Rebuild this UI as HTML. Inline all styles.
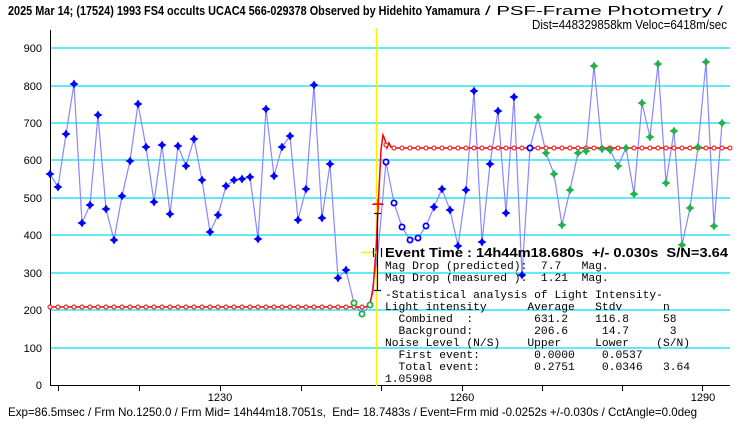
<!DOCTYPE html>
<html><head><meta charset="utf-8"><style>
html,body{margin:0;padding:0;background:#fff;}
svg{display:block;}
.m text{white-space:pre;}
</style></head><body>
<svg width="740" height="425" viewBox="0 0 740 425" xmlns="http://www.w3.org/2000/svg">
<defs>
<path id="dm" d="M0,-4.5 L1.7,-1.7 L4.5,0 L1.7,1.7 L0,4.5 L-1.7,1.7 L-4.5,0 L-1.7,-1.7Z"/>
</defs>
<rect width="740" height="425" fill="#fff"/>
<!-- title -->
<text x="8" y="15" font-family="Liberation Sans, sans-serif" font-size="13" font-weight="bold" textLength="472" lengthAdjust="spacingAndGlyphs">2025 Mar 14; (17524) 1993 FS4 occults UCAC4 566-029378 Observed by Hidehito Yamamura</text>
<text x="485" y="15" font-family="Liberation Sans, sans-serif" font-size="13" textLength="238" lengthAdjust="spacingAndGlyphs">/ PSF-Frame Photometry /</text>
<text x="727" y="29" text-anchor="end" font-family="Liberation Sans, sans-serif" font-size="12.5" textLength="195" lengthAdjust="spacingAndGlyphs">Dist=448329858km Veloc=6418m/sec</text>
<!-- grid -->
<g stroke="#00e0ee" stroke-width="1.3">
<line x1="50" x2="730" y1="48" y2="48"/><line x1="50" x2="730" y1="86" y2="86"/>
<line x1="50" x2="730" y1="123" y2="123"/><line x1="50" x2="730" y1="160" y2="160"/>
<line x1="50" x2="730" y1="198" y2="198"/><line x1="50" x2="730" y1="235" y2="235"/>
<line x1="50" x2="730" y1="273" y2="273"/><line x1="50" x2="730" y1="310" y2="310"/>
<line x1="50" x2="730" y1="348" y2="348"/>
</g>
<!-- y labels -->
<g font-family="Liberation Sans, sans-serif" font-size="11" text-anchor="end">
<text x="42" y="52">900</text><text x="42" y="90">800</text><text x="42" y="127">700</text>
<text x="42" y="164">600</text><text x="42" y="202">500</text><text x="42" y="239">400</text>
<text x="42" y="277">300</text><text x="42" y="314">200</text><text x="42" y="352">100</text>
<text x="42" y="389">0</text>
</g>
<!-- axes -->
<line x1="50.5" y1="30" x2="50.5" y2="386" stroke="#000"/>
<line x1="50" y1="385.5" x2="730" y2="385.5" stroke="#000"/>
<g stroke="#000">
<line x1="58.5" x2="58.5" y1="386" y2="391"/><line x1="139.5" x2="139.5" y1="386" y2="391"/>
<line x1="220.5" x2="220.5" y1="386" y2="391"/><line x1="301.5" x2="301.5" y1="386" y2="391"/>
<line x1="381.5" x2="381.5" y1="386" y2="391"/><line x1="462.5" x2="462.5" y1="386" y2="391"/>
<line x1="542.5" x2="542.5" y1="386" y2="391"/><line x1="622.5" x2="622.5" y1="386" y2="391"/>
<line x1="702.5" x2="702.5" y1="386" y2="391"/>
</g>
<g font-family="Liberation Sans, sans-serif" font-size="11" text-anchor="middle">
<text x="220" y="401">1230</text><text x="462" y="401">1260</text><text x="703" y="401">1290</text>
</g>
<!-- yellow event line -->
<line x1="376.5" y1="28" x2="376.5" y2="386" stroke="#ffee00" stroke-width="1.5"/>
<!-- data line -->
<polyline fill="none" stroke="#8888ff" stroke-width="1.2" points="50,174 58,187 66,134 74,84 82,223 90,205 98,115 106,209 114,240 122,196 130,161 138,104 146,147 154,202 162,145 170,214 178,146 186,166 194,139 202,180 210,232 218,215 226,186 234,180 242,179 250,177 258,239 266,109 274,176 282,147 290,136 298,220 306,189 314,85 322,218 330,164 338,278 346,270 354,303 362,314 370,305 378,252 386,162 394,203 402,227 410,240 418,238 426,226 434,207 442,189 450,210 458,246 466,190 474,91 482,242 490,164 498,111 506,213 514,97 522,275 530,148 538,117 546,153 554,174 562,225 570,190 578,153 586,151 594,66 602,149 610,150 618,166 626,148 634,194 642,103 650,137 658,64 666,183 674,131 682,245 690,208 698,147 706,62 714,226 722,123"/>
<!-- model -->
<polyline fill="none" stroke="#ff0000" stroke-width="1.5" points="50,307 366,307 370,304 373,290 376,250 379,190 381,150 383,135 385,140 387,148 389,143 391,147 395,148 730,148"/>
<g fill="#fff" stroke="#ff0000" stroke-width="1">
<circle cx="50" cy="307" r="2"/><circle cx="58" cy="307" r="2"/><circle cx="66" cy="307" r="2"/><circle cx="74" cy="307" r="2"/><circle cx="82" cy="307" r="2"/><circle cx="90" cy="307" r="2"/><circle cx="98" cy="307" r="2"/><circle cx="106" cy="307" r="2"/><circle cx="114" cy="307" r="2"/><circle cx="122" cy="307" r="2"/><circle cx="130" cy="307" r="2"/><circle cx="138" cy="307" r="2"/><circle cx="146" cy="307" r="2"/><circle cx="154" cy="307" r="2"/><circle cx="162" cy="307" r="2"/><circle cx="170" cy="307" r="2"/><circle cx="178" cy="307" r="2"/><circle cx="186" cy="307" r="2"/><circle cx="194" cy="307" r="2"/><circle cx="202" cy="307" r="2"/><circle cx="210" cy="307" r="2"/><circle cx="218" cy="307" r="2"/><circle cx="226" cy="307" r="2"/><circle cx="234" cy="307" r="2"/><circle cx="242" cy="307" r="2"/><circle cx="250" cy="307" r="2"/><circle cx="258" cy="307" r="2"/><circle cx="266" cy="307" r="2"/><circle cx="274" cy="307" r="2"/><circle cx="282" cy="307" r="2"/><circle cx="290" cy="307" r="2"/><circle cx="298" cy="307" r="2"/><circle cx="306" cy="307" r="2"/><circle cx="314" cy="307" r="2"/><circle cx="322" cy="307" r="2"/><circle cx="330" cy="307" r="2"/><circle cx="338" cy="307" r="2"/><circle cx="346" cy="307" r="2"/><circle cx="354" cy="307" r="2"/><circle cx="362" cy="307" r="2"/><circle cx="370" cy="304" r="2"/>
<circle cx="386" cy="145" r="2"/><circle cx="394" cy="148" r="2"/><circle cx="402" cy="148" r="2"/><circle cx="410" cy="148" r="2"/><circle cx="418" cy="148" r="2"/><circle cx="426" cy="148" r="2"/><circle cx="434" cy="148" r="2"/><circle cx="442" cy="148" r="2"/><circle cx="450" cy="148" r="2"/><circle cx="458" cy="148" r="2"/><circle cx="466" cy="148" r="2"/><circle cx="474" cy="148" r="2"/><circle cx="482" cy="148" r="2"/><circle cx="490" cy="148" r="2"/><circle cx="498" cy="148" r="2"/><circle cx="506" cy="148" r="2"/><circle cx="514" cy="148" r="2"/><circle cx="522" cy="148" r="2"/><circle cx="538" cy="148" r="2"/><circle cx="546" cy="148" r="2"/><circle cx="554" cy="148" r="2"/><circle cx="562" cy="148" r="2"/><circle cx="570" cy="148" r="2"/><circle cx="578" cy="148" r="2"/><circle cx="586" cy="148" r="2"/><circle cx="594" cy="148" r="2"/><circle cx="602" cy="148" r="2"/><circle cx="610" cy="148" r="2"/><circle cx="618" cy="148" r="2"/><circle cx="626" cy="148" r="2"/><circle cx="634" cy="148" r="2"/><circle cx="642" cy="148" r="2"/><circle cx="650" cy="148" r="2"/><circle cx="658" cy="148" r="2"/><circle cx="666" cy="148" r="2"/><circle cx="674" cy="148" r="2"/><circle cx="682" cy="148" r="2"/><circle cx="690" cy="148" r="2"/><circle cx="698" cy="148" r="2"/><circle cx="706" cy="148" r="2"/><circle cx="714" cy="148" r="2"/><circle cx="722" cy="148" r="2"/><circle cx="730" cy="148" r="2"/>
</g>
<!-- blue filled markers -->
<g fill="#0000ff">
<use href="#dm" x="50" y="174"/><use href="#dm" x="58" y="187"/><use href="#dm" x="66" y="134"/><use href="#dm" x="74" y="84"/><use href="#dm" x="82" y="223"/><use href="#dm" x="90" y="205"/><use href="#dm" x="98" y="115"/><use href="#dm" x="106" y="209"/><use href="#dm" x="114" y="240"/><use href="#dm" x="122" y="196"/><use href="#dm" x="130" y="161"/><use href="#dm" x="138" y="104"/><use href="#dm" x="146" y="147"/><use href="#dm" x="154" y="202"/><use href="#dm" x="162" y="145"/><use href="#dm" x="170" y="214"/><use href="#dm" x="178" y="146"/><use href="#dm" x="186" y="166"/><use href="#dm" x="194" y="139"/><use href="#dm" x="202" y="180"/><use href="#dm" x="210" y="232"/><use href="#dm" x="218" y="215"/><use href="#dm" x="226" y="186"/><use href="#dm" x="234" y="180"/><use href="#dm" x="242" y="179"/><use href="#dm" x="250" y="177"/><use href="#dm" x="258" y="239"/><use href="#dm" x="266" y="109"/><use href="#dm" x="274" y="176"/><use href="#dm" x="282" y="147"/><use href="#dm" x="290" y="136"/><use href="#dm" x="298" y="220"/><use href="#dm" x="306" y="189"/><use href="#dm" x="314" y="85"/><use href="#dm" x="322" y="218"/><use href="#dm" x="330" y="164"/><use href="#dm" x="338" y="278"/><use href="#dm" x="346" y="270"/>
<use href="#dm" x="434" y="207"/><use href="#dm" x="442" y="189"/><use href="#dm" x="450" y="210"/><use href="#dm" x="458" y="246"/><use href="#dm" x="466" y="190"/><use href="#dm" x="474" y="91"/><use href="#dm" x="482" y="242"/><use href="#dm" x="490" y="164"/><use href="#dm" x="498" y="111"/><use href="#dm" x="506" y="213"/><use href="#dm" x="514" y="97"/><use href="#dm" x="522" y="275"/>
</g>
<!-- blue hollow -->
<g fill="#fff" stroke="#0000ff" stroke-width="1.8">
<circle cx="386" cy="162" r="2.6"/><circle cx="394" cy="203" r="2.6"/><circle cx="402" cy="227" r="2.6"/><circle cx="410" cy="240" r="2.6"/><circle cx="418" cy="238" r="2.6"/><circle cx="426" cy="226" r="2.6"/><circle cx="530" cy="148" r="2.6"/>
</g>
<!-- green hollow -->
<g fill="#fff" stroke="#22aa44" stroke-width="1.8">
<circle cx="354" cy="303" r="2.6"/><circle cx="362" cy="314" r="2.6"/><circle cx="370" cy="305" r="2.6"/>
</g>
<!-- green filled -->
<g fill="#22b14c">
<use href="#dm" x="538" y="117"/><use href="#dm" x="546" y="153"/><use href="#dm" x="554" y="174"/><use href="#dm" x="562" y="225"/><use href="#dm" x="570" y="190"/><use href="#dm" x="578" y="153"/><use href="#dm" x="586" y="151"/><use href="#dm" x="594" y="66"/><use href="#dm" x="602" y="149"/><use href="#dm" x="610" y="150"/><use href="#dm" x="618" y="166"/><use href="#dm" x="626" y="148"/><use href="#dm" x="634" y="194"/><use href="#dm" x="642" y="103"/><use href="#dm" x="650" y="137"/><use href="#dm" x="658" y="64"/><use href="#dm" x="666" y="183"/><use href="#dm" x="674" y="131"/><use href="#dm" x="682" y="245"/><use href="#dm" x="690" y="208"/><use href="#dm" x="698" y="147"/><use href="#dm" x="706" y="62"/><use href="#dm" x="714" y="226"/><use href="#dm" x="722" y="123"/>
</g>
<!-- event markers -->
<line x1="361" y1="252.5" x2="378" y2="252.5" stroke="#ffee00" stroke-width="1.5"/>
<line x1="372" y1="204.5" x2="384" y2="204.5" stroke="#ff00ff" stroke-width="1"/>
<g stroke="#000066" stroke-width="1.2">
<line x1="377.5" y1="213" x2="377.5" y2="291"/>
<line x1="374" y1="213.5" x2="381" y2="213.5"/><line x1="374" y1="290.5" x2="381" y2="290.5"/>
<line x1="373.5" y1="248" x2="373.5" y2="257"/><line x1="381.5" y1="248" x2="381.5" y2="257"/>
</g>
<g stroke="#ff0000" stroke-width="1.5"><line x1="378" y1="199" x2="378" y2="209"/><line x1="373" y1="204" x2="383" y2="204"/></g>
<!-- info text -->
<text x="385" y="257" style="white-space:pre" font-family="Liberation Sans, sans-serif" font-size="13" font-weight="bold" textLength="343" lengthAdjust="spacingAndGlyphs">Event Time : 14h44m18.680s  +/- 0.030s  S/N=3.64</text>
<g class="m" font-family="Liberation Mono, monospace" font-size="11.3">
<text x="385" y="269">Mag Drop (predicted):  7.7   Mag.</text>
<text x="385" y="281">Mag Drop (measured ):  1.21  Mag.</text>
<text x="385" y="298">-Statistical analysis of Light Intensity-</text>
<text x="385" y="310">Light intensity      Average   Stdv      n</text>
<text x="385" y="322">  Combined  :         631.2    116.8     58</text>
<text x="385" y="334">  Background:         206.6     14.7      3</text>
<text x="385" y="346">Noise Level (N/S)    Upper     Lower    (S/N)</text>
<text x="385" y="358">  First event:        0.0000    0.0537</text>
<text x="385" y="370">  Total event:        0.2751    0.0346   3.64</text>
<text x="385" y="382">1.05908</text>
</g>
<!-- footer -->
<text x="8" y="416" style="white-space:pre" font-family="Liberation Sans, sans-serif" font-size="12" textLength="689" lengthAdjust="spacingAndGlyphs">Exp=86.5msec / Frm No.1250.0 / Frm Mid= 14h44m18.7051s,  End= 18.7483s / Event=Frm mid -0.0252s +/-0.030s / CctAngle=0.0deg</text>
</svg>
</body></html>
